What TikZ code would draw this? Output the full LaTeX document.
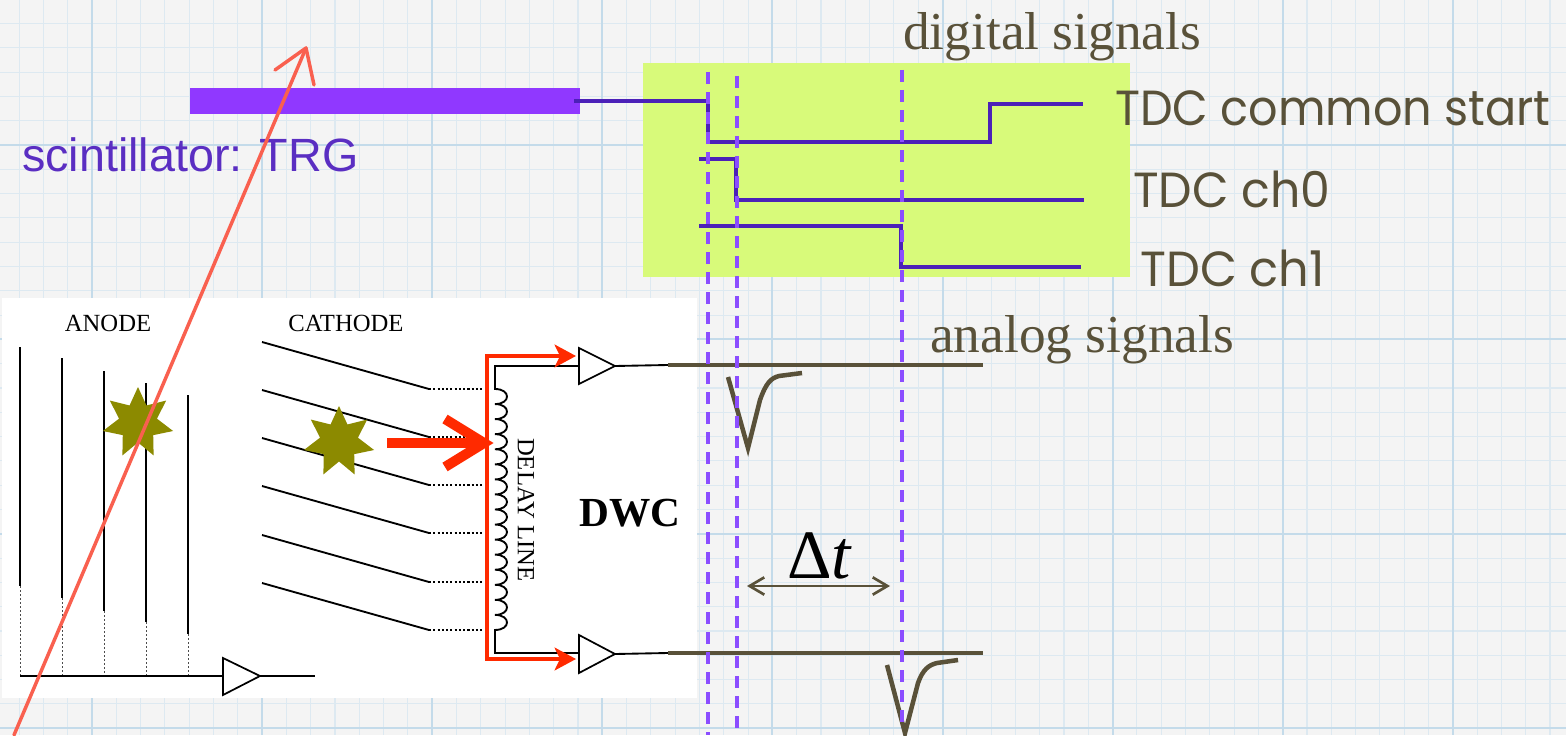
\documentclass[tikz,border=0pt]{standalone}
\usepackage{fontspec}
\setmainfont{Liberation Serif}
\newfontfamily\helv{Liberation Sans}
\newfontfamily\chalk{Poppins}
\usetikzlibrary{arrows.meta,shapes.geometric}
\definecolor{paper}{HTML}{F4F4F4}
\definecolor{gridminor}{HTML}{DDE9F1}
\definecolor{gridmajor}{HTML}{C4DBEA}
\definecolor{lime}{HTML}{D8FA7A}
\definecolor{scint}{HTML}{9038FF}
\definecolor{wavec}{HTML}{4B20B8}
\definecolor{dashv}{HTML}{8B4DFF}
\definecolor{olive}{HTML}{595139}
\definecolor{starc}{HTML}{8C8A00}
\definecolor{redc}{HTML}{FF2A00}
\definecolor{trackc}{HTML}{F9604F}
\definecolor{trgtext}{HTML}{5A2EC2}
\tikzset{
  minorgrid/.style={draw=gridminor, line width=0.8pt},
  majorgrid/.style={draw=gridmajor, line width=1.5pt},
  wire/.style={draw=black, line width=1.4pt},
  dotwire/.style={draw=black!70, line width=0.6pt, dash pattern=on 1.5pt off 1.5pt},
  cathdot/.style={draw=black, line width=1.6pt, dash pattern=on 1.6pt off 1.6pt},
  amp/.style={draw=black, fill=white, line width=1.3pt, line join=miter},
  redpath/.style={draw=redc, line width=3pt},
  wave/.style={draw=wavec, line width=2.6pt},
  vdash/.style={draw=dashv, line width=3pt, dash pattern=on 9pt off 6pt},
  analog/.style={draw=olive, line width=3pt},
  pulse/.style={draw=olive, line width=3.4pt, line join=miter},
  starnode/.style={star, star points=7, star point ratio=1.85, fill=starc, draw=none, inner sep=0pt, minimum size=54pt},
  tdc/.style={font=\chalk\fontsize{37}{40}\selectfont, text=olive, anchor=base west, inner sep=0pt},
  bigserif/.style={font=\fontsize{40}{44}\selectfont, text=olive, anchor=base west, inner sep=0pt},
  smallserif/.style={font=\fontsize{18.5}{20}\selectfont, inner sep=0pt},
}
\begin{document}
\begin{tikzpicture}[x=0.75pt,y=-0.75pt]
% paper and grid
\fill[paper] (0,0) rectangle (1566,735);
\useasboundingbox (0,0) rectangle (1566,735);
\foreach \i in {0,...,63} \draw[minorgrid] ({19.1+24.3*\i},0) -- ({19.1+24.3*\i},735);
\foreach \j in {0,...,30} \draw[minorgrid] (0,{23.5+24.3*\j}) -- (1566,{23.5+24.3*\j});
\foreach \x in {92,262.1,432.2,602.3,772.4,942.5,1112.6,1282.7,1452.8} \draw[majorgrid] (\x,0) -- (\x,735);
\foreach \y in {145,339.4,533.8,728.2} \draw[majorgrid] (0,\y) -- (1566,\y);

% panels
\fill[white] (2,298) rectangle (697,698);
\fill[lime] (643,63) rectangle (1130,277);

% scintillator
\fill[scint] (190,88) rectangle (580,114);
\node[font=\helv\fontsize{35}{38}\selectfont, text=trgtext, anchor=base west, inner sep=0pt] (trg) at (22,171) {scintillator: TRG};

% anode
\node[smallserif] (anode) at (108,323) {ANODE};
\foreach \x/\t/\b in {20/347/586, 62/358/598, 104/371/611, 146/383/622, 188/395/634} {
  \draw[wire] (\x,\t) -- (\x,\b);
  \draw[dotwire] (\x,\b) -- (\x,676);
}
\coordinate (busL) at (20,676);
\draw[amp] (223,658) -- (260,676) -- (223,695) -- cycle;
\coordinate (ampA) at (223,676);
\coordinate (ampAo) at (260,676);
\coordinate (outA) at (315,676);
\draw[wire] (busL) -- (ampA);
\draw[wire] (ampAo) -- (outA);

% cathode
\node[smallserif] (cathode) at (346,323) {CATHODE};
\foreach \y in {342,390,438,486,535,583} {
  \draw[wire] (262,\y) -- (429,{\y+47});
  \draw[cathdot] (429,{\y+47}) -- (483,{\y+47});
}
% delay line coil
\draw[wire] (579,366) -- (495,366) -- (495,389)
  \foreach \k in {0,...,15} { .. controls (511,{389+15.06*\k}) and (511,{389+15.06*(\k+1)}) .. (495,{389+15.06*(\k+1)}) }
  -- (495,653) -- (579,653);
\node[smallserif, rotate=-90] (delay) at (526,510) {DELAY LINE};
% amplifiers
\draw[amp] (579,348) -- (615,366) -- (579,384) -- cycle;
\draw[amp] (579,635) -- (615,654) -- (579,673) -- cycle;
\coordinate (amp1o) at (615,366);
\coordinate (amp2o) at (615,654);
\coordinate (an1s) at (668,365);
\coordinate (an1e) at (983,365);
\coordinate (an2s) at (668,653);
\coordinate (an2e) at (983,653);
\draw[wire] (amp1o) -- (an1s);
\draw[wire] (amp2o) -- (an2s);
\draw[analog] (an1s) -- (an1e);
\draw[analog] (an2s) -- (an2e);
\node[font=\bfseries\fontsize{31}{34}\selectfont, inner sep=0pt] (dwc) at (630,513) {DWC};

% red signal path
\coordinate (rtop) at (576,356);
\coordinate (rbot) at (576,659);
\draw[redpath, {Stealth[length=16pt,width=17pt,inset=4pt]}-{Stealth[length=16pt,width=17pt,inset=4pt]}, line join=miter]
  (rtop) -- (487,356) -- (487,659) -- (rbot);
% big red arrow
\coordinate (bigS) at (387,443);
\coordinate (bigT) at (482,443);
\draw[draw=redc, line width=7.5pt] (bigS) -- (bigT);
\draw[draw=redc, line width=7.5pt, line join=miter, miter limit=10] (445,419) -- (484,443) -- (445,467);

% stars
\node[starnode] (star1) at (138,423) {};
\node[starnode] (star2) at (339,442) {};

% digital signals
\node[bigserif] (dig) at (903,50) {digital signals};
\coordinate (cs0) at (574,101);
\coordinate (cs1) at (1083,104);
\draw[wave] (cs0) -- (708,101) -- (708,142) -- (990,142) -- (990,104) -- (cs1);
\coordinate (c00) at (699,159);
\coordinate (c01) at (1084,200);
\draw[wave] (c00) -- (736,159) -- (736,200) -- (c01);
\coordinate (c10) at (699,226);
\coordinate (c11) at (1081,267);
\draw[wave] (c10) -- (901,226) -- (901,267) -- (c11);
\node[tdc] (tdcs) at (1115,125) {\scalebox{0.935}[1]{TDC common start}};
\node[tdc] (tdc0) at (1133,207) {\scalebox{0.96}[1]{TDC ch0}};
\node[tdc] (tdc1) at (1140,286) {\scalebox{0.97}[1]{TDC ch1}};

% analog
\node[bigserif] (ana) at (930,352) {analog signals};
\draw[pulse] (728,377) -- (748,448) -- (760,400) .. controls (766,383) and (771,378) .. (779,376) -- (802,373);
\draw[pulse] (887,665) -- (905,733) -- (918,683) .. controls (923,669) and (929,665) .. (937,663) -- (958,660);

% timing dashed lines
\draw[vdash] (708,72) -- (708,735);
\draw[vdash] (737,76) -- (737,735);
\draw[vdash] (902,70) -- (902,728);

% delta t
\coordinate (dtL) at (747,586);
\coordinate (dtR) at (890,586);
\draw[draw=olive, line width=2pt, {Straight Barb[length=11pt,width=13pt]}-{Straight Barb[length=11pt,width=13pt]}] (dtL) -- (dtR);
\node[font=\fontsize{52}{54}\selectfont, inner sep=0pt, anchor=base] (dt) at (820,578) {Δ\textit{t}};

% particle track
\coordinate (trk0) at (14,735);
\coordinate (trk1) at (306,48);
\draw[draw=trackc, line width=2.6pt, line cap=round] (trk0) -- (trk1);
\draw[draw=trackc, line width=2.6pt, line cap=round, line join=round] (275,70) -- (trk1) -- (314,85);
\end{tikzpicture}
\end{document}
